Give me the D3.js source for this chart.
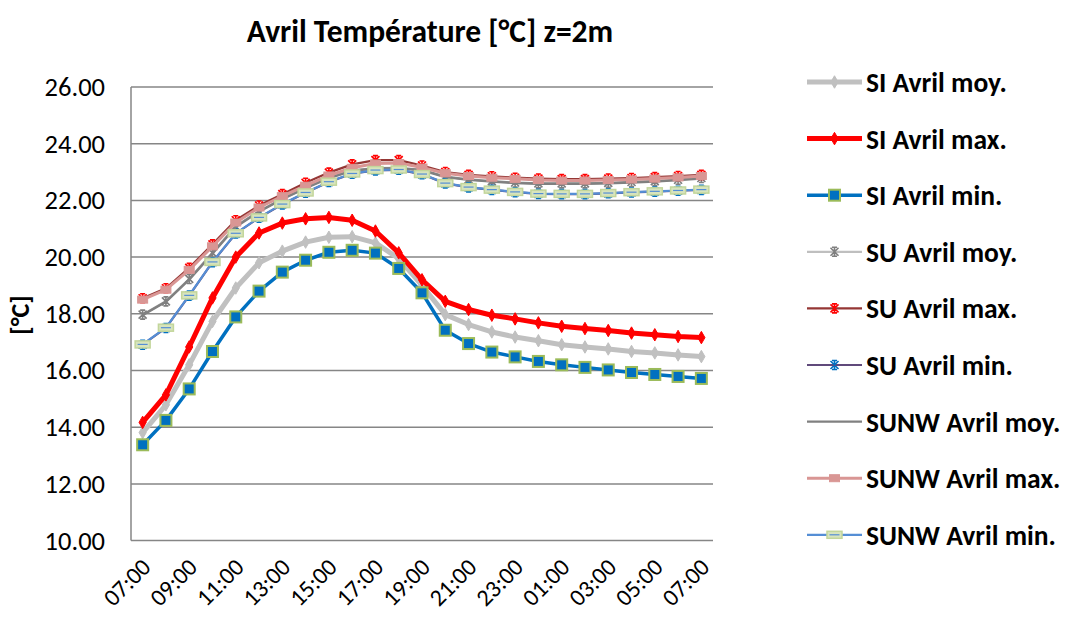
<!DOCTYPE html>
<html><head><meta charset="utf-8">
<script src="https://cdn.jsdelivr.net/npm/d3@7"></script>
<style>
body{margin:0;background:#fff;}
svg{display:block;font-family:Carlito,Lato,"Liberation Sans",sans-serif;}
</style></head>
<body><svg id="c" width="1067" height="617"></svg>
<script>
const hours = ["07:00","08:00","09:00","10:00","11:00","12:00","13:00","14:00","15:00","16:00","17:00","18:00","19:00","20:00","21:00","22:00","23:00","00:00","01:00","02:00","03:00","04:00","05:00","06:00","07:00"];
const yTicks = [10,12,14,16,18,20,22,24,26];

const SI_moy = [13.81,14.79,16.20,17.73,18.91,19.80,20.21,20.53,20.70,20.72,20.50,19.95,19.00,17.97,17.62,17.36,17.18,17.05,16.91,16.83,16.76,16.67,16.62,16.55,16.49];
const SI_max = [14.17,15.14,16.83,18.56,20.00,20.85,21.20,21.35,21.40,21.30,20.92,20.15,19.20,18.44,18.15,17.95,17.82,17.68,17.56,17.48,17.41,17.32,17.26,17.20,17.16];
const SI_min = [13.38,14.24,15.35,16.67,17.89,18.80,19.47,19.89,20.17,20.24,20.14,19.60,18.74,17.42,16.95,16.65,16.48,16.32,16.20,16.11,16.02,15.93,15.86,15.79,15.72];
const SU_moy = [17.97,18.44,19.23,20.15,21.09,21.62,22.06,22.45,22.80,23.06,23.14,23.15,23.08,22.84,22.74,22.68,22.63,22.60,22.60,22.60,22.62,22.65,22.68,22.73,22.79];
const SU_max = [18.55,18.90,19.62,20.45,21.30,21.82,22.22,22.62,22.98,23.27,23.42,23.42,23.23,23.00,22.90,22.85,22.80,22.77,22.75,22.75,22.77,22.79,22.82,22.86,22.90];
const SU_min = [16.91,17.50,18.64,19.82,20.83,21.39,21.86,22.27,22.65,22.94,23.06,23.08,22.92,22.60,22.46,22.37,22.29,22.23,22.22,22.22,22.25,22.28,22.31,22.34,22.37];
const SUNW_moy = [17.95,18.42,19.20,20.12,21.06,21.60,22.04,22.43,22.78,23.04,23.12,23.13,23.06,22.82,22.72,22.66,22.61,22.58,22.58,22.58,22.60,22.63,22.66,22.71,22.77];
const SUNW_max = [18.50,18.85,19.55,20.38,21.22,21.75,22.15,22.52,22.88,23.15,23.30,23.32,23.16,22.96,22.86,22.80,22.76,22.72,22.70,22.70,22.72,22.74,22.77,22.81,22.86];
const SUNW_min = [16.92,17.51,18.65,19.83,20.84,21.40,21.87,22.28,22.66,22.95,23.07,23.09,22.93,22.61,22.47,22.38,22.30,22.24,22.23,22.23,22.26,22.29,22.32,22.35,22.38];

const seriesNames = ["SI Avril moy.","SI Avril max.","SI Avril min.","SU Avril moy.","SU Avril max.","SU Avril min.","SUNW Avril moy.","SUNW Avril max.","SUNW Avril min."];
const seriesValues = [SI_moy,SI_max,SI_min,SU_moy,SU_max,SU_min,SUNW_moy,SUNW_max,SUNW_min];
const styles = [
  {line:"#c0c0c0", w:5, legendLine:"#c0c0c0", marker:"diamond", mfill:"#c0c0c0", mstroke:"#c0c0c0"},
  {line:"#ff0000", w:5, legendLine:"#ff0000", marker:"diamond", mfill:"#ff0000", mstroke:"#ff0000"},
  {line:"#0070c0", w:3.5, legendLine:"#0070c0", marker:"square", mfill:"#0070c0", mstroke:"#9bbb59"},
  {line:"#8c8c8c", w:2.2, legendLine:"#bfbfbf", marker:"star", mstroke:"#7f7f7f"},
  {line:"#953735", w:2.2, legendLine:"#953735", marker:"star", mstroke:"#ff0000"},
  {line:"#604a7b", w:2.2, legendLine:"#604a7b", marker:"star", mstroke:"#0070c0"},
  {line:"#808080", w:2.2, legendLine:"#808080", marker:"none"},
  {line:"#d99694", w:3, legendLine:"#d99694", marker:"pink", mfill:"#d99694", mstroke:"#d99694"},
  {line:"#558ed5", w:2.2, legendLine:"#558ed5", marker:"dash", mfill:"#d7e4bd", mstroke:"#c3d69b"}
];

const svg = d3.select("#c");
const L = 131, R = 713, T = 87, B = 540.6;
const x = d3.scalePoint().domain(d3.range(hours.length)).range([L, R]).padding(0.5);
const y = d3.scaleLinear().domain([10, 26]).range([B, T]);

// gridlines
svg.append("g").selectAll("line").data(yTicks).join("line")
  .attr("x1", L).attr("x2", R).attr("y1", d => y(d)).attr("y2", d => y(d))
  .attr("stroke", "#868686").attr("stroke-width", 1.5);
svg.append("line").attr("x1", L).attr("x2", L).attr("y1", T).attr("y2", B)
  .attr("stroke", "#868686").attr("stroke-width", 1.5);

// y axis labels
const yAxis = d3.axisLeft(y).tickValues(yTicks).tickFormat(d3.format(".2f")).tickSize(0).tickPadding(26);
const gy = svg.append("g").attr("transform", `translate(${L},0)`).call(yAxis);
gy.select(".domain").remove();
gy.selectAll("text").attr("font-size", 26.5).attr("fill", "#000").attr("font-family", "Carlito,Lato,sans-serif");

// x axis labels
const xAxis = d3.axisBottom(x).tickValues(d3.range(0, hours.length, 2)).tickFormat(i => hours[i]).tickSize(0);
const gx = svg.append("g").attr("transform", `translate(0,${B})`).call(xAxis);
gx.select(".domain").remove();
gx.selectAll("text").attr("font-size", 24).attr("fill", "#000").attr("font-family", "Carlito,Lato,sans-serif")
  .attr("text-anchor", "end").attr("dy", 0).attr("y", 0)
  .attr("transform", "translate(9,28) rotate(-45)");

// marker drawing
function drawMarker(g, st) {
  if (st.marker === "diamond") {
    g.append("path").attr("d", d3.symbol(d3.symbolDiamond, 45)())
      .attr("fill", st.mfill).attr("stroke", st.mstroke).attr("stroke-width", 1);
  } else if (st.marker === "square") {
    g.append("rect").attr("x", -5.5).attr("y", -5.5).attr("width", 11).attr("height", 11)
      .attr("fill", st.mfill).attr("stroke", st.mstroke).attr("stroke-width", 2);
  } else if (st.marker === "star") {
    g.append("path").attr("d", "M-4,-4L4,4M-4,4L4,-4M0,-4.5V4.5M-2.5,-4.5H2.5M-2.5,4.5H2.5")
      .attr("fill", "none").attr("stroke", st.mstroke).attr("stroke-width", 1.6);
  } else if (st.marker === "pink") {
    g.append("rect").attr("x", -5).attr("y", -3.5).attr("width", 10).attr("height", 7)
      .attr("fill", st.mfill).attr("stroke", st.mstroke).attr("stroke-width", 1);
  } else if (st.marker === "dash") {
    g.append("rect").attr("x", -7.5).attr("y", -3.5).attr("width", 15).attr("height", 7)
      .attr("fill", st.mfill).attr("stroke", st.mstroke).attr("stroke-width", 1.5);
    g.append("line").attr("x1", -5).attr("x2", 5).attr("y1", 0).attr("y2", 0)
      .attr("stroke", "#558ed5").attr("stroke-width", 1.2);
  }
}

const line = d3.line().x((d, i) => x(i)).y(d => y(d));
const plot = svg.append("g");
seriesValues.forEach((vals, k) => {
  const st = styles[k];
  const g = plot.append("g");
  g.append("path").datum(vals).attr("d", line).attr("fill", "none")
    .attr("stroke", st.line).attr("stroke-width", st.w).attr("stroke-linejoin", "round");
  if (st.marker !== "none") {
    vals.forEach((v, i) => {
      const m = g.append("g").attr("transform", `translate(${x(i)},${y(v)})`);
      drawMarker(m, st);
    });
  }
});

// legend
const leg = svg.append("g");
seriesNames.forEach((name, k) => {
  const st = styles[k];
  const cy = 82 + k * 56.6;
  const g = leg.append("g").attr("transform", `translate(0,${cy})`);
  g.append("line").attr("x1", 807).attr("x2", 862).attr("y1", 0).attr("y2", 0)
    .attr("stroke", st.legendLine).attr("stroke-width", st.w);
  if (st.marker !== "none") {
    const m = g.append("g").attr("transform", "translate(834.5,0)");
    drawMarker(m, st);
  }
  g.append("text").attr("x", 866).attr("y", 0).attr("dy", "0.36em")
    .attr("font-size", 27.5).attr("font-weight", "bold").attr("fill", "#000").text(name);
});

// title
svg.append("text").attr("x", 430).attr("y", 42).attr("text-anchor", "middle")
  .attr("font-size", 31.5).attr("font-weight", "bold").attr("fill", "#000")
  .text("Avril Température [°C] z=2m");

// y axis title
svg.append("text").attr("transform", "translate(29,315) rotate(-90)")
  .attr("text-anchor", "middle").attr("font-size", 26).attr("font-weight", "bold").attr("fill", "#000")
  .text("[°C]");
</script></body></html>
